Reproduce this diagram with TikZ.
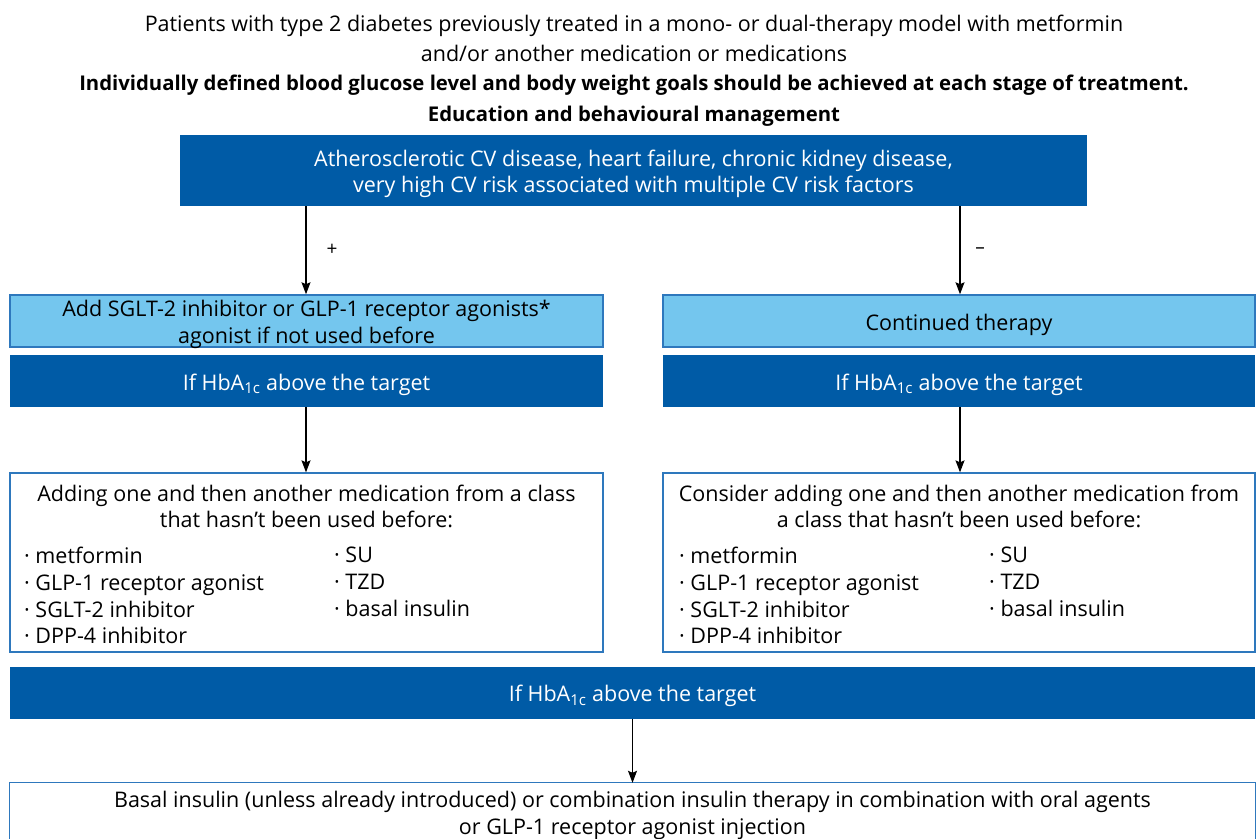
\documentclass[tikz,border=0pt]{standalone}
\usepackage{fontspec}
\setmainfont{Open Sans}
\usetikzlibrary{arrows.meta}
\definecolor{darkblue}{HTML}{005BA6}
\definecolor{lightblue}{HTML}{74C6EE}
\definecolor{edgeblue}{HTML}{2E78BD}
\newcommand{\hba}{HbA\textsubscript{1c}}
\tikzset{
  txt/.style={font=\fontsize{21.5}{26.5}\selectfont, align=center, inner sep=0pt},
  intext/.style={txt, yshift=-3.5pt},
  darkbox/.style={fill=darkblue, draw=none, inner sep=0pt},
  lightbox/.style={fill=lightblue, draw=edgeblue, line width=1.5pt, inner sep=0pt},
  whitebox/.style={fill=white, draw=edgeblue, line width=1.3pt, inner sep=0pt},
  item/.style={font=\fontsize{21.5}{26.7}\selectfont, align=left, inner sep=0pt, anchor=north west},
  flow/.style={line width=1.2pt, -{Stealth[length=12pt,width=9pt,inset=2pt]}},
  sign/.style={font=\fontsize{19}{20}\selectfont, inner sep=0pt}
}
\begin{document}
\begin{tikzpicture}[x=1pt,y=-1pt]
\useasboundingbox (0,0) rectangle (1257,838);

% heading lines
\node[txt, font=\fontsize{21.5}{30}\selectfont] (head1) at (634,38) {Patients with type 2 diabetes previously treated in a mono- or dual-therapy model with metformin\\and/or another medication or medications};
\node[txt, font=\fontsize{20.3}{31}\bfseries\selectfont] (head2) at (634,101) {Individually defined blood glucose level and body weight goals should be achieved at each stage of treatment.\\Education and behavioural management};

% risk question
\node[darkbox, minimum width=907pt, minimum height=71pt,
  label={[intext, text=white]center:{Atherosclerotic CV disease, heart failure, chronic kidney disease,\\very high CV risk associated with multiple CV risk factors}}] (risk) at (633.5,170.5) {};

% left branch
\node[lightbox, minimum width=593pt, minimum height=52pt,
  label={[intext]center:{Add SGLT-2 inhibitor or GLP-1 receptor agonists*\\agonist if not used before}}] (add) at (306.5,321) {};
\node[darkbox, minimum width=593pt, minimum height=52pt,
  label={[intext, text=white]center:{If \hba{} above the target}}] (hbaL) at (306.5,381) {};
\node[whitebox, minimum width=593pt, minimum height=179pt] (listL) at (306.5,562.5) {};
\node[txt, anchor=north] (listLhead) at (306.5,484.5) {Adding one and then another medication from a class\\that hasn’t been used before:};
\node[item] (listLa) at (24,547) {· metformin\\· GLP-1 receptor agonist\\· SGLT-2 inhibitor\\· DPP-4 inhibitor};
\node[item] (listLb) at (334,547) {· SU\\· TZD\\· basal insulin};

% right branch
\node[lightbox, minimum width=592pt, minimum height=52pt,
  label={[intext]center:{Continued therapy}}] (cont) at (959,321) {};
\node[darkbox, minimum width=592pt, minimum height=52pt,
  label={[intext, text=white]center:{If \hba{} above the target}}] (hbaR) at (959,381) {};
\node[whitebox, minimum width=592pt, minimum height=179pt] (listR) at (959,562.5) {};
\node[txt, anchor=north] (listRhead) at (959,484.5) {Consider adding one and then another medication from\\a class that hasn’t been used before:};
\node[item] (listRa) at (679,547) {· metformin\\· GLP-1 receptor agonist\\· SGLT-2 inhibitor\\· DPP-4 inhibitor};
\node[item] (listRb) at (989,547) {· SU\\· TZD\\· basal insulin};

% common final stage
\node[darkbox, minimum width=1245pt, minimum height=52pt,
  label={[intext, text=white]center:{If \hba{} above the target}}] (hbaC) at (632.5,692.5) {};
\node[txt, minimum width=1245pt, minimum height=65pt] (final) at (632.5,815.5) {Basal insulin (unless already introduced) or combination insulin therapy in combination with oral agents\\or GLP-1 receptor agonist injection};
\draw[draw=edgeblue, line width=1.3pt] (final.south west) -- (final.north west) -- (final.north east) -- (final.south east);

% connectors
\coordinate (riskL) at (306,206);
\coordinate (riskR) at (960,206);
\draw[flow] (riskL) -- (riskL |- add.north) node[sign, pos=0.5, xshift=26pt] (plus) {+};
\draw[flow] (riskR) -- (riskR |- cont.north) node[sign, pos=0.5, xshift=20pt] (minus) {–};
\draw[flow] (hbaL.south -| riskL) -- (riskL |- listL.north);
\draw[flow] (hbaR.south -| riskR) -- (riskR |- listR.north);
\draw[flow] (hbaC.south) -- (hbaC.south |- final.north);
\end{tikzpicture}
\end{document}
